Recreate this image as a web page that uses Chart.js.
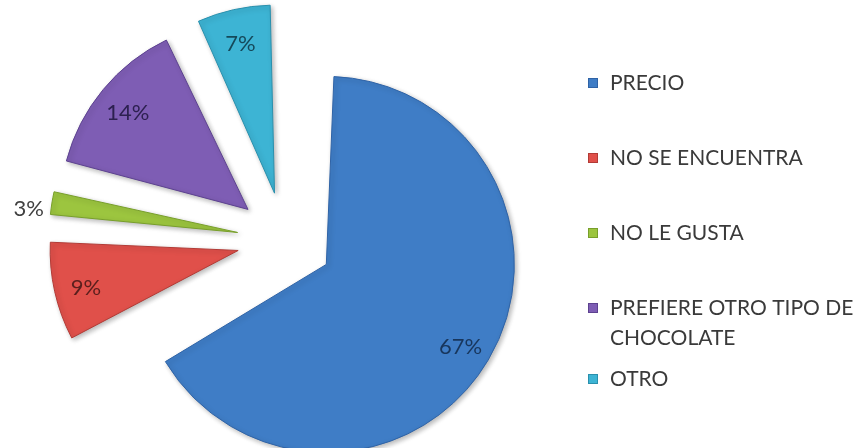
<!DOCTYPE html>
<html>
<head>
<meta charset="utf-8">
<script src="https://cdn.jsdelivr.net/npm/chart.js@4.4.1/dist/chart.umd.min.js"></script>
<style>
  html, body { margin: 0; padding: 0; background: #fff; }
  canvas { display: block; }
</style>
</head>
<body>
<canvas id="chart" width="861" height="448"></canvas>
<script>
const categories = ["PRECIO", "NO SE ENCUENTRA", "NO LE GUSTA", "PREFIERE OTRO TIPO DE CHOCOLATE", "OTRO"];
const percents = [67, 9, 3, 14, 7];
const percentLabels = ["67%", "9%", "3%", "14%", "7%"];

const fillColors = ["#3f7dc6", "#e0504a", "#9cc53f", "#7e5db4", "#3db4d4"];
const borderColors = ["#2f63a6", "#b23b36", "#789f2b", "#5d4290", "#2a90ad"];
const labelColors = ["#18365c", "#5a1f1d", "#404040", "#2d2050", "#15495a"];

const RADIUS = 188;     // pie radius in px
const PULL = 48;        // how far every slice is pulled out of the centre
const FONT = "Lato, 'Open Sans', sans-serif";

// Chart.js grows an offset arc by (offset/4)*fix, so shrink it back to keep all slices the same size
const explode = {
  id: "explode",
  afterDatasetUpdate(chart, args) {
    args.meta.data.forEach(arc => {
      const fix = 1 - Math.sin(Math.min(Math.PI, arc.circumference));
      arc.outerRadius = RADIUS - PULL * fix;
    });
  },
  beforeDatasetsDraw(chart) {
    const ctx = chart.ctx;
    ctx.save();
    ctx.shadowColor = "rgba(0,0,0,0.28)";
    ctx.shadowBlur = 5;
    ctx.shadowOffsetX = 2;
    ctx.shadowOffsetY = 2;
  },
  afterDatasetsDraw(chart) {
    chart.ctx.restore();
  }
};

const sliceLabels = {
  id: "sliceLabels",
  afterDatasetsDraw(chart) {
    const ctx = chart.ctx;
    ctx.save();
    ctx.font = "22px " + FONT;
    ctx.textBaseline = "middle";
    chart.getDatasetMeta(0).data.forEach((arc, i) => {
      const { x, y, startAngle, endAngle } = arc.getProps(["x", "y", "startAngle", "endAngle"], true);
      const mid = (startAngle + endAngle) / 2;
      const cos = Math.cos(mid), sin = Math.sin(mid);
      const ax = x + cos * PULL, ay = y + sin * PULL;
      ctx.fillStyle = labelColors[i];
      if (percents[i] < 5) {
        // too thin, put it outside the slice
        const ox = ax + cos * RADIUS, oy = ay + sin * RADIUS;
        ctx.textAlign = cos < 0 ? "right" : "left";
        ctx.fillText(percentLabels[i], ox + (cos < 0 ? -8 : 8), oy + 6);
      } else {
        ctx.textAlign = "center";
        ctx.fillText(percentLabels[i], ax + cos * RADIUS * 0.83, ay + sin * RADIUS * 0.83 + 3);
      }
    });
    ctx.restore();
  }
};

// legend on the right, with wrapped text like the original
const sideLegend = {
  id: "sideLegend",
  afterDraw(chart) {
    const ctx = chart.ctx;
    const boxX = 588, textX = 610, maxW = 252;
    const rows = [83, 158, 233, 308, 379];
    ctx.save();
    ctx.font = "21px " + FONT;
    ctx.textBaseline = "middle";
    ctx.textAlign = "left";
    categories.forEach((name, i) => {
      const lines = [];
      let cur = "";
      name.split(" ").forEach(w => {
        const t = cur ? cur + " " + w : w;
        if (cur && ctx.measureText(t).width > maxW) { lines.push(cur); cur = w; } else cur = t;
      });
      lines.push(cur);
      const y = rows[i];
      ctx.fillStyle = fillColors[i];
      ctx.fillRect(boxX, y - 5, 10, 10);
      ctx.strokeStyle = borderColors[i];
      ctx.lineWidth = 1;
      ctx.strokeRect(boxX + 0.5, y - 4.5, 9, 9);
      ctx.fillStyle = "#3a3a3a";
      lines.forEach((ln, k) => ctx.fillText(ln, textX, y + k * 30));
    });
    ctx.restore();
  }
};

new Chart(document.getElementById("chart"), {
  type: "pie",
  data: {
    labels: categories,
    datasets: [{
      data: percents,
      backgroundColor: fillColors,
      borderColor: borderColors,
      borderWidth: 1,
      offset: PULL * 4
    }]
  },
  options: {
    responsive: false,
    animation: false,
    events: [],
    radius: RADIUS,
    layout: { padding: { left: 0, right: 291, top: 32, bottom: 0 } },
    plugins: {
      legend: { display: false },
      tooltip: { enabled: false }
    }
  },
  plugins: [explode, sliceLabels, sideLegend]
});
</script>
</body>
</html>
